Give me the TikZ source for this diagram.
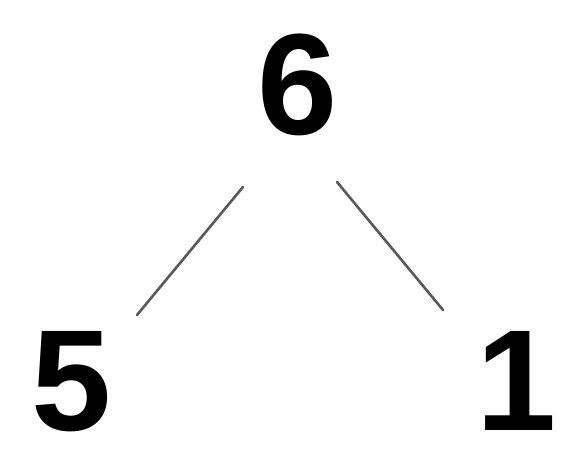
\documentclass[tikz,border=0pt]{standalone}
\usepackage{fontspec}
\setmainfont{Liberation Sans}
\begin{document}
\begin{tikzpicture}[x=1pt,y=1pt,
  num/.style={font=\bfseries\fontsize{144}{144}\selectfont, inner sep=0pt, anchor=base},
  conn/.style={draw=black!65, line width=2.6pt, line cap=round}]
\useasboundingbox (0,0) rectangle (572,456);
\node[num] (six) at (297.5,322) {6};
\node[num] (five) at (71.5,26) {5};
\node[num] (one) at (516.5,26) {1};
\coordinate (la) at (243,269);
\coordinate (lb) at (137,141);
\coordinate (ra) at (337,274);
\coordinate (rb) at (443,146);
\draw[conn] (la) -- (lb);
\draw[conn] (ra) -- (rb);
\end{tikzpicture}
\end{document}
